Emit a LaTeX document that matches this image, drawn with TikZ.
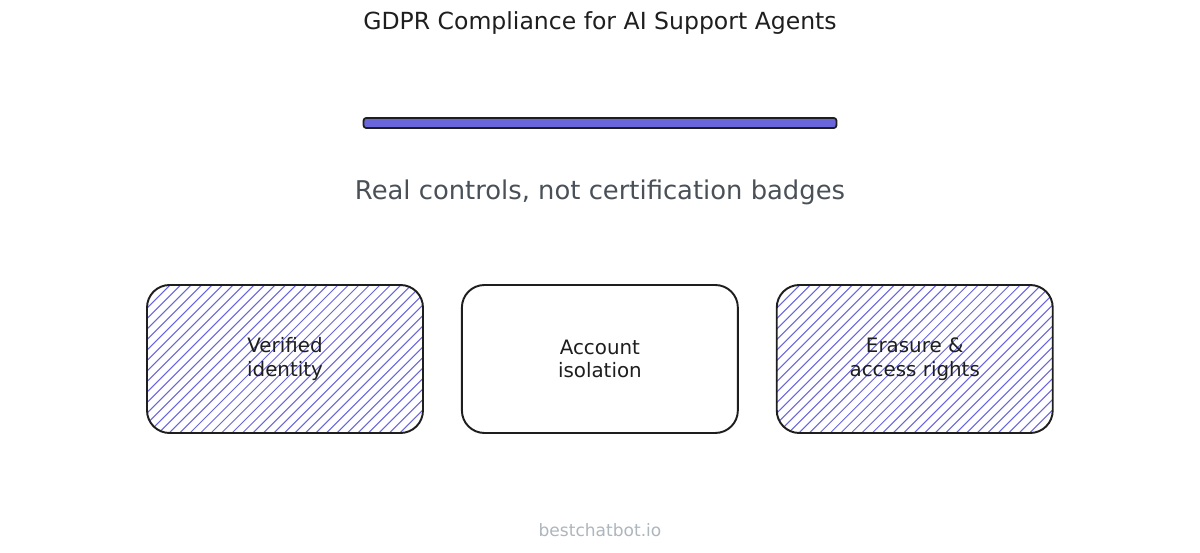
\documentclass[tikz,border=0pt]{standalone}
\usepackage{fontspec}
\setmainfont{DejaVu Sans}
\usepackage{tikz}
\usetikzlibrary{positioning}
\definecolor{ink}{HTML}{1E1E1E}
\definecolor{violet}{HTML}{6965DB}
\definecolor{slate}{HTML}{495057}
\definecolor{mist}{HTML}{ADB5BD}
\tikzset{
  card/.style={draw=ink,line width=1.1pt,rounded corners=0.45cm,fill=white,
    minimum width=5.52cm,minimum height=2.96cm,align=center,
    font=\fontsize{11.3}{13.5}\selectfont,text=ink},
  hatched/.style={card,path picture={
    \foreach \k in {-22,...,22}
      \draw[violet,line width=0.6pt] (path picture bounding box.center)
        ++(\k*0.21cm-3cm,-3cm) -- ++(6cm,6cm);}},
}

\begin{document}
\begin{tikzpicture}[x=0.02cm,y=-0.02cm]
  \useasboundingbox (0,0) rectangle (1200,553);
\node[text=ink,font=\fontsize{13.4}{16}\selectfont] (title) at (600,23) {GDPR Compliance for AI Support Agents};
\node[draw=ink,fill=violet,line width=1pt,rounded corners=1.5pt,minimum width=9.46cm,minimum height=0.2cm,inner sep=0pt] (bar) at (600,123) {};
\node[text=slate,font=\fontsize{14.7}{17}\selectfont] (sub) at (600,192) {Real controls, not certification badges};
% the three controls
\node[hatched] (identity) at (285,359) {Verified\\identity};
\node[card,right=0.74cm of identity] (isolation) {Account\\isolation};
\node[hatched,right=0.74cm of isolation] (erasure) {Erasure \&\\access rights};
\node[text=mist,font=\fontsize{9.7}{11}\selectfont] (site) at (600,530) {bestchatbot.io};
\end{tikzpicture}
\end{document}
